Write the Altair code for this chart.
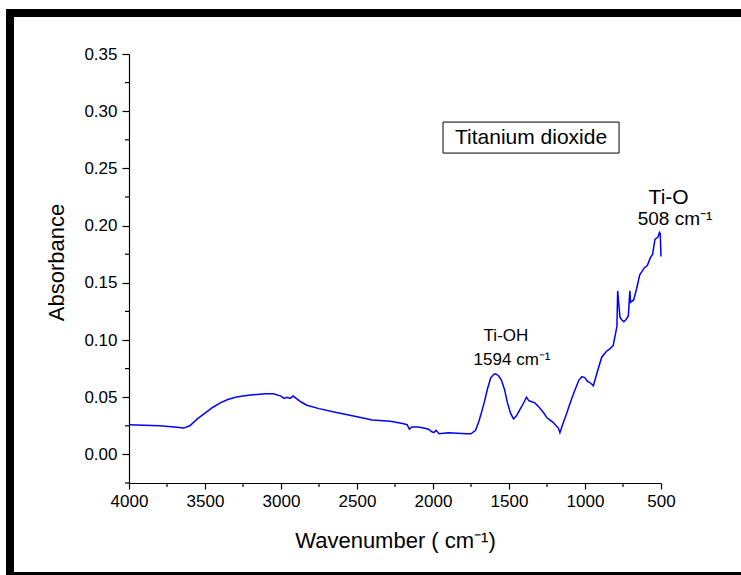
import altair as alt
import pandas as pd

# ---- spectrum (wavenumber cm^-1, absorbance) ----
wavenumber = [4000, 3900, 3800, 3700, 3640, 3600, 3550, 3500, 3450, 3400, 3350, 3300,
              3250, 3200, 3100, 3050, 3000, 2980, 2960, 2940, 2920, 2900, 2870, 2830,
              2750, 2650, 2500, 2400, 2280, 2200, 2170, 2155, 2140, 2100, 2060, 2030,
              2010, 1995, 1980, 1960, 1900, 1840, 1780, 1750, 1720, 1700, 1680, 1660,
              1640, 1620, 1600, 1590, 1570, 1550, 1530, 1510, 1490, 1470, 1450, 1420,
              1400, 1385, 1370, 1350, 1330, 1300, 1270, 1250, 1230, 1210, 1190, 1175,
              1165, 1150, 1120, 1100, 1070, 1040, 1020, 1000, 985, 960, 945, 930, 915,
              890, 860, 835, 815, 800, 790, 785, 780, 770, 760, 745, 730, 715, 705, 700,
              680, 660, 640, 610, 590, 570, 555, 540, 520, 510, 505, 500]
absorbance = [0.026, 0.0255, 0.025, 0.024, 0.023, 0.025, 0.031, 0.036, 0.041, 0.045, 0.048, 0.050,
              0.051, 0.052, 0.053, 0.053, 0.051, 0.049, 0.050, 0.049, 0.051, 0.049, 0.046, 0.043,
              0.040, 0.037, 0.033, 0.030, 0.029, 0.027, 0.026, 0.022, 0.024, 0.024, 0.023, 0.022,
              0.020, 0.019, 0.021, 0.018, 0.019, 0.0185, 0.018, 0.018, 0.021, 0.028, 0.037, 0.047,
              0.058, 0.067, 0.070, 0.0705, 0.069, 0.065, 0.057, 0.045, 0.036, 0.031, 0.034, 0.041,
              0.046, 0.050, 0.047, 0.046, 0.045, 0.041, 0.036, 0.032, 0.030, 0.028, 0.025, 0.023,
              0.019, 0.025, 0.036, 0.044, 0.055, 0.065, 0.068, 0.067, 0.064, 0.062, 0.060, 0.067, 0.074,
              0.085, 0.090, 0.0925, 0.095, 0.105, 0.112, 0.143, 0.135, 0.120, 0.118, 0.116, 0.118, 0.121, 0.143, 0.133,
              0.135, 0.145, 0.157, 0.163, 0.165, 0.172, 0.175, 0.188, 0.190, 0.194, 0.193, 0.173]

# ---- axes ----
x_major = [4000, 3500, 3000, 2500, 2000, 1500, 1000, 500]
x_minor = [3750, 3250, 2750, 2250, 1750, 1250, 750]
y_major = [0.00, 0.05, 0.10, 0.15, 0.20, 0.25, 0.30, 0.35]
y_minor = [-0.025, 0.025, 0.075, 0.125, 0.175, 0.225, 0.275, 0.325]
x_domain = [4000, 500]
y_domain = [-0.025, 0.35]

# ---- annotations ----
ann_text = ["Titanium dioxide", "Ti-O", "508 cm⁻¹", "Ti-OH", "1594 cm⁻¹"]
ann_wn = [1355, 450, 408, 1520, 1480]
ann_abs = [0.2766, 0.2241, 0.2058, 0.1035, 0.0825]
ann_size = [21, 21, 19, 17, 17]

box_wn = [1934, 776]
box_abs = [0.2905, 0.2634]

FONT = "Liberation Sans"
W, H = 532, 429
PAD_L, PAD_T, PAD_R, PAD_B = 129, 54, 80, 92

curve = pd.DataFrame({"wn": wavenumber, "abs": absorbance})
ann = pd.DataFrame({"t": ann_text, "wn": ann_wn, "abs": ann_abs, "fs": ann_size})
box = pd.DataFrame({"x1": [box_wn[0]], "x2": [box_wn[1]], "y1": [box_abs[0]], "y2": [box_abs[1]]})
xmin_df = pd.DataFrame({"wn": x_minor})
ymin_df = pd.DataFrame({"abs": y_minor})
one = pd.DataFrame({"a": [0]})

xs = alt.Scale(domain=x_domain, nice=False, zero=False)
ys = alt.Scale(domain=y_domain, nice=False, zero=False)

main = alt.Chart(curve).mark_line(color="#0000ff", strokeWidth=1.5).encode(
    x=alt.X("wn:Q", scale=xs, axis=alt.Axis(
        values=x_major, format="d", title="Wavenumber ( cm⁻¹)", orient="bottom",
        grid=False, domainColor="black", domainWidth=1.2, tickColor="black", tickSize=6,
        tickWidth=1.2, labelFont=FONT, labelFontSize=17, labelColor="black", labelPadding=4,
        labelFlush=False, titleFont=FONT, titleFontSize=22, titleFontWeight="normal",
        titleColor="black", titleBaseline="alphabetic", titleY=64, titleX=W / 2)),
    y=alt.Y("abs:Q", scale=ys, axis=alt.Axis(
        values=y_major, format=".2f", title="Absorbance", orient="left",
        grid=False, domainColor="black", domainWidth=1.2, tickColor="black", tickSize=7,
        tickWidth=1.2, labelFont=FONT, labelFontSize=17, labelColor="black", labelPadding=5,
        labelFlush=False, titleFont=FONT, titleFontSize=22, titleFontWeight="normal",
        titleColor="black", titleBaseline="alphabetic", titleAngle=-90, titleX=-66,
        titleY=208, titleAlign="center")),
)

# minor ticks, placed through the shared scales
xminor = alt.Chart(xmin_df).mark_rule(color="black", strokeWidth=1.2).encode(
    x=alt.X("wn:Q", scale=xs), y=alt.value(H), y2=alt.value(H + 4))
yminor = alt.Chart(ymin_df).mark_rule(color="black", strokeWidth=1.2).encode(
    y=alt.Y("abs:Q", scale=ys), x=alt.value(0), x2=alt.value(-4))

boxes = alt.Chart(box).mark_rect(fill="white", stroke="black", strokeWidth=1).encode(
    x=alt.X("x1:Q", scale=xs), x2="x2:Q", y=alt.Y("y1:Q", scale=ys), y2="y2:Q")

labels = alt.Chart(ann).mark_text(font=FONT, color="black", align="center",
                                  baseline="middle").encode(
    x=alt.X("wn:Q", scale=xs), y=alt.Y("abs:Q", scale=ys), text="t:N",
    size=alt.Size("fs:Q", scale=None, legend=None))

# decorative thick frame (figure border)
frame_top = alt.Chart(one).mark_rect(color="black").encode(
    x=alt.value(6 - PAD_L), x2=alt.value(741 - PAD_L + 20),
    y=alt.value(9 - PAD_T), y2=alt.value(17 - PAD_T))
frame_left = alt.Chart(one).mark_rect(color="black").encode(
    x=alt.value(6 - PAD_L), x2=alt.value(14 - PAD_L),
    y=alt.value(9 - PAD_T), y2=alt.value(575 - PAD_T + 20))
frame_bottom = alt.Chart(one).mark_rect(color="black").encode(
    x=alt.value(6 - PAD_L), x2=alt.value(741 - PAD_L + 20),
    y=alt.value(572 - PAD_T), y2=alt.value(580 - PAD_T))

chart = alt.layer(main, xminor, yminor, boxes, labels, frame_top, frame_left, frame_bottom).properties(
    width=W, height=H,
    autosize=alt.AutoSizeParams(type="none"),
    padding={"left": PAD_L, "top": PAD_T, "right": PAD_R, "bottom": PAD_B},
    background="white",
).configure_view(strokeWidth=0)

chart.save("out.html", embed_options={"renderer": "svg", "actions": False})
